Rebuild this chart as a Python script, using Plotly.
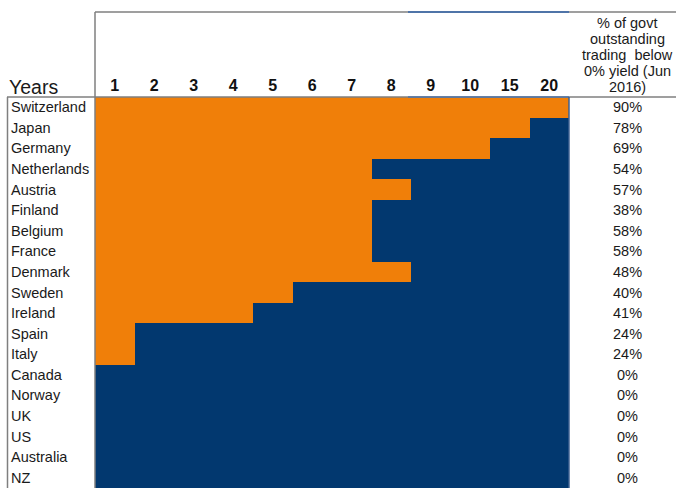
import plotly.graph_objects as go

# ---- data ----
maturities = ["1", "2", "3", "4", "5", "6", "7", "8", "9", "10", "15", "20"]
maturity_years = [1, 2, 3, 4, 5, 6, 7, 8, 9, 10, 15, 20]
countries = ["Switzerland", "Japan", "Germany", "Netherlands", "Austria", "Finland",
             "Belgium", "France", "Denmark", "Sweden", "Ireland", "Spain", "Italy",
             "Canada", "Norway", "UK", "US", "Australia", "NZ"]
# longest maturity (years) trading at a negative yield; 0 = none
neg_yield_to = [20, 15, 10, 7, 8, 7, 7, 7, 8, 5, 4, 1, 1, 0, 0, 0, 0, 0, 0]
pct_below_zero = ["90%", "78%", "69%", "54%", "57%", "38%", "58%", "58%", "48%", "40%",
                  "41%", "24%", "24%", "0%", "0%", "0%", "0%", "0%", "0%"]
header_lines = ["% of govt", "outstanding", "trading&nbsp;&nbsp;below", "0% yield (Jun", "2016)"]

ORANGE = "#F07F09"
NAVY = "#02386F"
TXT = "#1a1a1a"
FONT = "Liberation Sans, Arial, sans-serif"
W, H = 676, 488

z = [[1 if m <= lim else 0 for m in maturity_years] for lim in neg_yield_to]


def px(x):
    return x / W


def py(y):
    return 1 - y / H


fig = go.Figure(go.Heatmap(
    z=z, x=maturities, y=countries,
    colorscale=[[0, NAVY], [0.5, NAVY], [0.5, ORANGE], [1, ORANGE]],
    zmin=0, zmax=1, showscale=False, hoverinfo="skip",
))

annotations = []
for c, p in zip(countries, pct_below_zero):
    annotations.append(dict(x=px(9), xref="paper", xanchor="left", y=c, yref="y",
                            text=c, showarrow=False, font=dict(size=14.5, color=TXT, family=FONT)))
    annotations.append(dict(x=px(627), xref="paper", xanchor="center", y=c, yref="y",
                            text=p, showarrow=False, font=dict(size=14.5, color=TXT, family=FONT)))

annotations.append(dict(x=px(7), xref="paper", xanchor="left", y=py(87), yref="paper",
                        yanchor="middle", text="Years", showarrow=False,
                        font=dict(size=19.5, color=TXT, family=FONT)))
for i, line in enumerate(header_lines):
    annotations.append(dict(x=px(627), xref="paper", xanchor="center",
                            y=py(23 + 16 * i), yref="paper", yanchor="middle",
                            text=line, showarrow=False,
                            font=dict(size=14.5, color=TXT, family=FONT)))

GRAY = "#7f7f7f"
BLUE = "#4f74a8"


def line(x0, y0, x1, y1, color=GRAY, width=1.5):
    return dict(type="line", xref="paper", yref="paper",
                x0=px(x0), y0=py(y0), x1=px(x1), y1=py(y1),
                line=dict(color=color, width=width))


shapes = [
    line(95, 12, 676, 12),
    line(408, 12, 569, 12, BLUE, 2),
    line(95, 12, 95, 488),
    line(7, 97, 676, 97),
    line(408, 97, 569, 97, BLUE, 1.5),
    line(7.5, 97, 7.5, 488),
    line(569, 97, 569, 488, "#3c5f90", 1.5),
]

fig.update_layout(
    width=W, height=H, autosize=False,
    margin=dict(l=0, r=0, t=0, b=0),
    paper_bgcolor="white", plot_bgcolor="white",
    xaxis=dict(domain=[px(95), px(569)], side="top", type="category",
               showgrid=False, zeroline=False, ticks="", showline=False,
               tickfont=dict(size=16, color="#111", family=FONT, weight="bold"),
               ticklabelstandoff=2),
    yaxis=dict(domain=[0, py(97)], type="category", autorange="reversed",
               showgrid=False, zeroline=False, showticklabels=False, ticks=""),
    annotations=annotations, shapes=shapes,
    font=dict(family=FONT),
)

fig.write_html("out.html")
